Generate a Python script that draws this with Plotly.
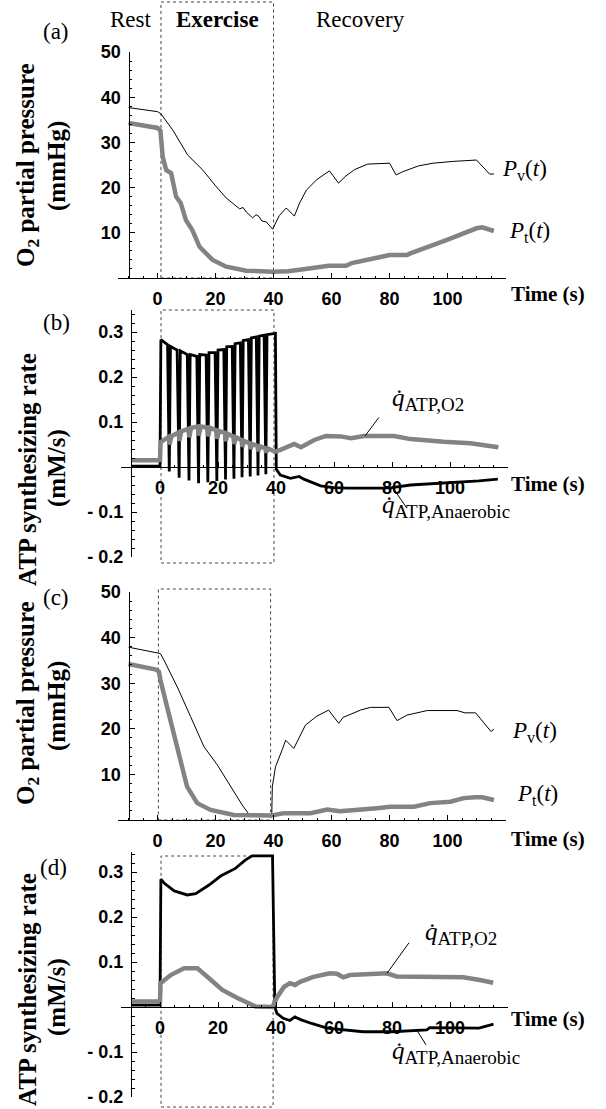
import plotly.graph_objects as go

W, H = 606, 1109

# ---------------- data ----------------
# Panel (a): O2 partial pressure, intermittent exercise
t_pv_a = [-10, 0, 1.2, 5.3, 10.4, 15.6, 20, 23.7, 26, 28.3, 29.5, 30.6, 32.8, 34, 35, 36, 37.5,
          39.7, 42, 44.4, 47.2, 49, 51.4, 55, 59.3, 62.4, 65, 68, 72.5, 80, 82.3, 84.5, 90, 95,
          102, 110, 114.5, 116]
pv_a = [37.7, 36.8, 36.3, 32.7, 27.2, 23.9, 20.4, 17.7, 16.5, 15.3, 15.6, 14.6, 13.3, 14.0, 13.6,
        12.6, 12.4, 10.8, 13.8, 15.5, 13.7, 16.6, 19.5, 21.8, 23.7, 21.0, 22.6, 24.0, 25.2, 25.4,
        22.8, 23.5, 24.8, 25.4, 25.8, 26.1, 23.0, 23.0]
t_pt_a = [-10, 0, 1.0, 1.8, 3.0, 4.7, 6.4, 8, 9.8, 12, 14.5, 19, 23.7, 30.6, 40, 45, 51, 59, 65,
          67, 76.5, 80, 86, 87, 99.6, 110, 112, 116]
pt_a = [34.3, 33.2, 32.6, 26.8, 23.9, 23.2, 18.0, 16.6, 12.8, 10.6, 6.9, 4.0, 2.5, 1.6, 1.4, 1.5,
        2.0, 2.7, 2.7, 3.3, 4.6, 5.1, 5.1, 5.4, 8.4, 11.0, 11.2, 10.4]

# Panel (b): ATP synthesizing rate, intermittent exercise
t_an_b = [-10, 0.0, 0.3, 2.6, 3.2, 3.6, 5.9, 6.6, 7.0, 9.4, 10.0, 10.4, 12.7, 13.3, 13.7, 15.9,
          16.5, 16.9, 19.0, 19.6, 20.0, 22.0, 22.6, 23.0, 24.9, 25.5, 25.9, 27.7, 28.3, 28.7, 30.5,
          31.1, 31.5, 33.2, 33.8, 34.2, 35.9, 36.5, 36.9, 39.3, 39.8, 40.1, 41.5, 45, 47, 48,
          49.6, 55.4, 60, 64.6, 77, 80, 86.4, 95, 102, 110, 116.5]
an_b = [0.002, 0.002, 0.283, 0.272, -0.010, 0.268, 0.260, -0.024, 0.258, 0.250, -0.030, 0.250,
        0.246, -0.036, 0.250, 0.249, -0.034, 0.254, 0.254, -0.031, 0.260, 0.261, -0.028, 0.267,
        0.268, -0.026, 0.274, 0.276, -0.023, 0.281, 0.283, -0.021, 0.287, 0.289, -0.019, 0.291,
        0.293, -0.016, 0.294, 0.297, 0.297, -0.005, -0.018, -0.025, -0.022, -0.021, -0.027,
        -0.042, -0.046, -0.047, -0.047, -0.046, -0.040, -0.037, -0.035, -0.031, -0.027]
t_o2_b = [-10, 0.0, 0.2, 3.0, 3.3, 3.9, 6.4, 6.7, 7.3, 9.8, 10.1, 10.7, 13.1, 13.4, 14.0, 16.3,
          16.6, 17.2, 19.4, 19.7, 20.3, 22.4, 22.7, 23.3, 25.3, 25.6, 26.2, 28.1, 28.4, 29.0,
          30.9, 31.2, 31.8, 33.6, 33.9, 34.5, 36.3, 36.6, 37.2, 39.7, 41.5, 44, 46.3, 48.6, 53.2,
          57.2, 62.4, 65.8, 70.4, 80.7, 86.4, 97.8, 107, 116.7]
o2_b = [0.015, 0.015, 0.055, 0.067, 0.050, 0.068, 0.077, 0.058, 0.079, 0.085, 0.066, 0.087, 0.090,
        0.070, 0.090, 0.088, 0.068, 0.087, 0.082, 0.063, 0.080, 0.076, 0.057, 0.074, 0.068,
        0.051, 0.066, 0.060, 0.045, 0.058, 0.053, 0.040, 0.051, 0.047, 0.035, 0.046, 0.042,
        0.032, 0.041, 0.034, 0.038, 0.046, 0.051, 0.044, 0.060, 0.069, 0.068, 0.064, 0.069,
        0.069, 0.062, 0.056, 0.053, 0.044]

# Panel (c): O2 partial pressure, continuous exercise
t_pv_c = [-10, 0, 1, 2.2, 6.8, 11.4, 16, 20.6, 25.2, 29.2, 31.5, 39.4, 39.6, 40.7, 43, 44.2, 47,
          51, 55, 59, 62.5, 64, 70, 73.4, 79.8, 82.6, 86, 93, 103.3, 106, 109.7, 112.6, 115, 116]
pv_c = [37.9, 36.7, 36.5, 35.1, 29.2, 22.7, 16.1, 12.1, 7.3, 3.3, 1.3, 1.2, 7.3, 11.7, 15.4, 17.5,
        15.7, 20.8, 22.8, 24.1, 21.2, 22.5, 24.1, 24.7, 24.7, 21.8, 23.0, 24.0, 24.0, 23.5, 23.5,
        21.2, 19.4, 19.9]
t_pt_c = [-10, -0.5, 0.5, 1, 3.3, 5.6, 7.9, 10.2, 13.7, 18.3, 26.3, 39.4, 43.6, 52.8, 58.5, 62.9,
          75.7, 80.3, 88.5, 94, 101, 105.6, 109.5, 112, 116]
pt_c = [34.2, 33.0, 32.5, 30.7, 24.8, 19.0, 12.4, 7.3, 3.7, 2.2, 1.1, 1.0, 1.5, 1.5, 2.3, 1.9, 2.6,
        2.9, 2.9, 3.7, 4.0, 4.8, 5.0, 5.0, 4.4]

# Panel (d): ATP synthesizing rate, continuous exercise
t_an_d = [-10, 0.0, 0.3, 1.5, 4.9, 9.4, 12.3, 16.9, 20.9, 26, 29.5, 31.8, 38.8, 39.6, 40.3, 42.5,
          44.8, 46.5, 48.5, 52, 57.6, 62, 70, 80, 88, 92, 93, 110, 115]
an_d = [0.004, 0.004, 0.284, 0.275, 0.258, 0.249, 0.252, 0.271, 0.291, 0.308, 0.327, 0.336, 0.336,
        0.0, -0.014, -0.025, -0.030, -0.022, -0.028, -0.036, -0.047, -0.050, -0.055, -0.055,
        -0.052, -0.051, -0.046, -0.047, -0.038]
t_o2_d = [-10, 0.0, 0.2, 3.7, 8.3, 12.9, 16.9, 21.5, 26.7, 31.3, 33, 38.8, 40.5, 42.8, 44.8, 46.6,
          48.3, 52.9, 58.6, 61, 63.2, 65.5, 78.2, 81.6, 104.6, 110.3, 114.9]
o2_d = [0.012, 0.012, 0.053, 0.071, 0.086, 0.086, 0.064, 0.038, 0.020, 0.005, 0.001, 0.0, 0.023,
        0.045, 0.053, 0.049, 0.056, 0.067, 0.075, 0.074, 0.066, 0.071, 0.075, 0.068, 0.066, 0.060,
        0.054]

x_ticks = [0, 20, 40, 60, 80, 100]
x_ticktext = ["0", "20", "40", "60", "80", "100"]
p_ticks = [10, 20, 30, 40, 50]
p_ticktext = ["10", "20", "30", "40", "50"]
q_ticks = [-0.2, -0.1, 0.1, 0.2, 0.3]
q_ticktext = ["- 0.2", "- 0.1", "0.1", "0.2", "0.3"]

exercise_start = [1.2, 0.35, 0.3, 0.35]
exercise_end = [40, 39.3, 39.0, 39.0]

# ---------------- layout helpers ----------------
def fx(px):
    return px / W


def fy(py):
    return 1 - py / H


XMIN, XMAX = -13.5, 120
PXS = 2.9
GRAY = "#838383"
SERIF = "Liberation Serif"
SANS = "Liberation Sans"

panels = [
    dict(t0=157.5, ytop=52, ybot=278, yr=[0, 50], zero=None, kind="P", box=(2, 278)),
    dict(t0=160, ytop=309.5, ybot=557, yr=[-0.2, 0.35], zero=467, kind="q", box=(310, 563)),
    dict(t0=157.5, ytop=592, ybot=820, yr=[0, 50], zero=None, kind="P", box=(589, 820)),
    dict(t0=160, ytop=851.75, ybot=1097, yr=[-0.2, 0.345], zero=1007, kind="q", box=(856, 1107)),
]

fig = go.Figure()
layout = dict(template="none", width=W, height=H, margin=dict(l=0, r=0, t=0, b=0, pad=0),
              autosize=False, paper_bgcolor="white", plot_bgcolor="white", showlegend=False)

tickfont = dict(family=SANS, size=18, color="black", weight="bold")
shapes = []
annotations = []

for i, p in enumerate(panels, start=1):
    xs = "" if i == 1 else str(i)
    xname, yname = "x" + xs, "y" + xs
    xdom = [fx(p["t0"] + XMIN * PXS), fx(p["t0"] + XMAX * PXS)]
    ydom = [fy(p["ybot"]), fy(p["ytop"])]
    xa = dict(domain=xdom, range=[XMIN, XMAX], showline=True, linecolor="black", linewidth=1,
              ticks="inside", ticklen=5, tickwidth=1, tickcolor="black", showgrid=False,
              zeroline=False, tickmode="array", tickvals=x_ticks, ticktext=x_ticktext,
              tickfont=tickfont, ticklabelstandoff=4, automargin=False,
              minor=dict(ticks="inside", ticklen=2.5, tickcolor="black", tickmode="linear",
                         tick0=0, dtick=5, showgrid=False))
    if p["zero"] is None:
        xa.update(anchor=yname)
    else:
        xa.update(anchor="free", position=fy(p["zero"]))
    if p["kind"] == "P":
        tv, tt, mdt = p_ticks, p_ticktext, 2
    else:
        tv, tt, mdt = q_ticks, q_ticktext, 0.02
    ya = dict(domain=ydom, range=p["yr"], anchor="free", position=fx(p["t0"] - 10 * PXS),
              showline=True, linecolor="black", linewidth=1, ticks="inside", ticklen=5,
              tickwidth=1, tickcolor="black", showgrid=False, zeroline=False,
              tickmode="array", tickvals=tv, ticktext=tt, tickfont=tickfont,
              ticklabelstandoff=4, automargin=False,
              minor=dict(ticks="inside", ticklen=2.5, tickcolor="black", tickmode="linear",
                         tick0=0, dtick=mdt, showgrid=False))
    layout["xaxis" + xs] = xa
    layout["yaxis" + xs] = ya

    # dashed exercise box
    shapes.append(dict(type="rect", xref=xname, yref="paper",
                       x0=exercise_start[i - 1], x1=exercise_end[i - 1],
                       y0=fy(p["box"][1]), y1=fy(p["box"][0]),
                       line=dict(color="#444444", width=1, dash="dot"), layer="below"))

    # "Time (s)" labels
    tlab_y = {1: 294, 2: 484, 3: 839, 4: 1019}[i]
    annotations.append(dict(xref="paper", yref="paper", x=fx(509), y=fy(tlab_y),
                            xanchor="left", yanchor="middle", showarrow=False,
                            text="<b>Time (s)</b>",
                            font=dict(family=SERIF, size=21, color="black")))

# traces
fig.add_trace(go.Scatter(x=t_pv_a, y=pv_a, mode="lines", line=dict(color="black", width=1),
                         xaxis="x", yaxis="y"))
fig.add_trace(go.Scatter(x=t_pt_a, y=pt_a, mode="lines", line=dict(color=GRAY, width=4.5),
                         xaxis="x", yaxis="y"))
fig.add_trace(go.Scatter(x=t_an_b, y=an_b, mode="lines", line=dict(color="black", width=2.8),
                         xaxis="x2", yaxis="y2"))
fig.add_trace(go.Scatter(x=t_o2_b, y=o2_b, mode="lines", line=dict(color=GRAY, width=4.5),
                         xaxis="x2", yaxis="y2"))
fig.add_trace(go.Scatter(x=t_pv_c, y=pv_c, mode="lines", line=dict(color="black", width=1),
                         xaxis="x3", yaxis="y3"))
fig.add_trace(go.Scatter(x=t_pt_c, y=pt_c, mode="lines", line=dict(color=GRAY, width=4.5),
                         xaxis="x3", yaxis="y3"))
fig.add_trace(go.Scatter(x=t_an_d, y=an_d, mode="lines", line=dict(color="black", width=2.8),
                         xaxis="x4", yaxis="y4"))
fig.add_trace(go.Scatter(x=t_o2_d, y=o2_d, mode="lines", line=dict(color=GRAY, width=4.5),
                         xaxis="x4", yaxis="y4"))


def txt(x, y, text, size=23, xanchor="center", angle=0):
    annotations.append(dict(xref="paper", yref="paper", x=fx(x), y=fy(y), text=text,
                            showarrow=False, xanchor=xanchor, yanchor="middle", textangle=angle,
                            font=dict(family=SERIF, size=size, color="black")))


# phase labels
txt(131, 20, "Rest")
txt(217, 20, "<b>Exercise</b>")
txt(360, 20, "Recovery")

# panel letters
txt(56, 32, "(a)")
txt(56, 323, "(b)")
txt(56, 597, "(c)")
txt(53, 867, "(d)")

# y-axis titles
YT = 25
txt(27, 165, "<b>O<sub>2</sub> partial pressure</b>", size=YT, angle=-90)
txt(57, 166, "<b>(mmHg)</b>", size=YT, angle=-90)
txt(27, 470, "<b>ATP synthesizing rate</b>", size=YT, angle=-90)
txt(57, 468, "<b>(mM/s)</b>", size=YT, angle=-90)
txt(27, 703, "<b>O<sub>2</sub> partial pressure</b>", size=YT, angle=-90)
txt(57, 706, "<b>(mmHg)</b>", size=YT, angle=-90)
txt(27, 990, "<b>ATP synthesizing rate</b>", size=YT, angle=-90)
txt(57, 997, "<b>(mM/s)</b>", size=YT, angle=-90)

# curve labels
pv_lab = "<i>P</i><sub>v</sub>(<i>t</i>)"
pt_lab = "<i>P</i><sub>t</sub>(<i>t</i>)"
txt(500, 170, pv_lab, xanchor="left")
txt(507, 232, pt_lab, xanchor="left")
txt(510, 732, pv_lab, xanchor="left")
txt(515, 795, pt_lab, xanchor="left")

qo2 = "<i>q\u0307</i><sub><span style='font-size:19px'>ATP,O2</span></sub>"
qan = "<i>q\u0307</i><sub><span style='font-size:19px'>ATP,Anaerobic</span></sub>"
txt(390, 400, qo2, size=25, xanchor="left")
txt(380, 506, qan, size=25, xanchor="left")
txt(423, 934, qo2, size=25, xanchor="left")
txt(390, 1052, qan, size=25, xanchor="left")

# pointer lines (arrow from label to a point on the curve)
def pointer(xref, yref, x, y, ax, ay):
    annotations.append(dict(xref=xref, yref=yref, x=x, y=y, ax=ax, ay=ay, text="",
                            showarrow=True, arrowhead=0, arrowwidth=1, arrowcolor="black"))


pointer("x2", "y2", 70.7, 0.069, 15, -20)
pointer("x2", "y2", 80.3, -0.046, 15, 22)
pointer("x4", "y4", 78.3, 0.075, 23, -32)
pointer("x4", "y4", 88.6, -0.052, 10, 16)

layout["shapes"] = shapes
layout["annotations"] = annotations
fig.update_layout(**layout)
fig.write_html(
    "out.html",
    config={"displayModeBar": False, "staticPlot": True},
    post_script="document.body.style.margin='0';document.body.style.padding='0';"
                "document.documentElement.style.overflow='hidden';",
)
